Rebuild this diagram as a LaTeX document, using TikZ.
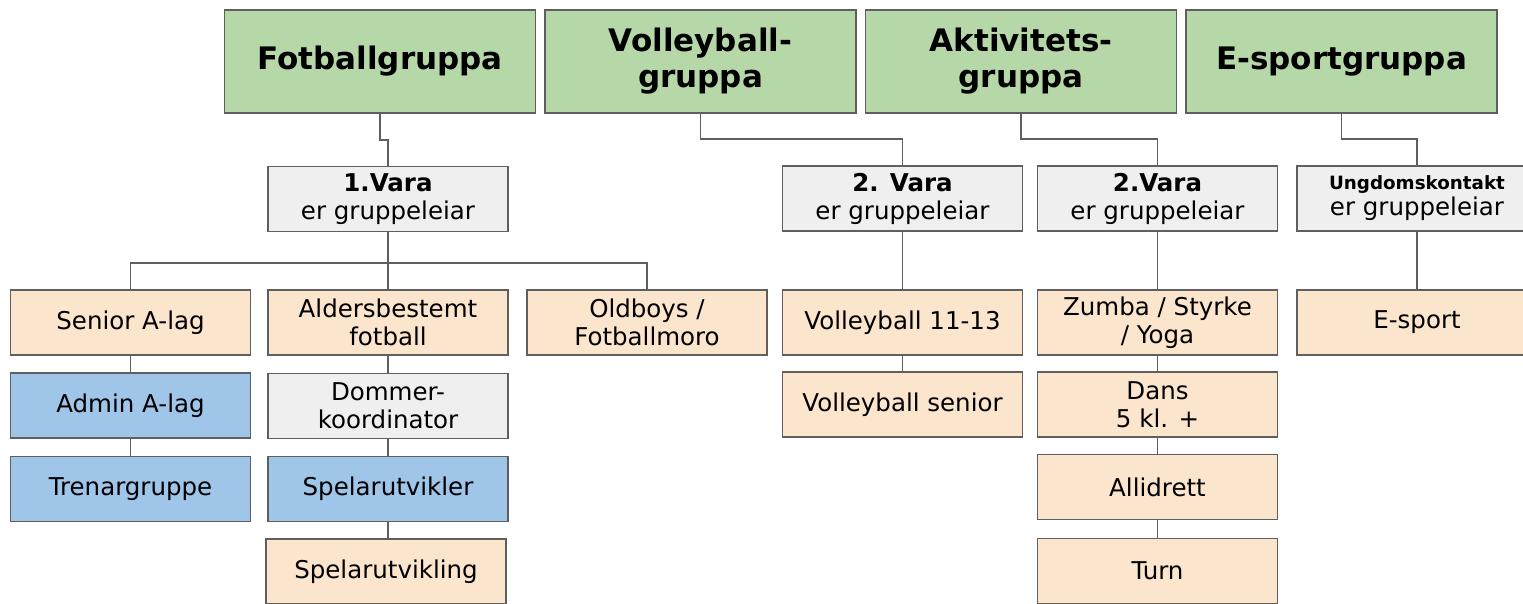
\documentclass[tikz,border=0pt]{standalone}
\usepackage{fontspec}
\setmainfont{DejaVu Sans}
\definecolor{grn}{HTML}{B6D7A8}
\definecolor{gry}{HTML}{EFEFEF}
\definecolor{pch}{HTML}{FCE5CD}
\definecolor{blu}{HTML}{9FC5E8}
\definecolor{edge}{HTML}{5F5F5F}
\tikzset{
  base/.style={draw=edge, line width=1.8pt, rectangle, align=center, inner sep=0pt,
    minimum width=240pt, minimum height=65pt, font=\fontsize{24.5}{28}\selectfont},
  title/.style={base, fill=grn, minimum width=311pt, minimum height=103pt,
    font=\fontsize{31}{36}\selectfont\bfseries},
  lead/.style={base, fill=gry},
  item/.style={base, fill=pch},
  admin/.style={base, fill=blu},
  gitem/.style={base, fill=gry},
  conn/.style={draw=edge, line width=1.8pt},
}
\begin{document}
\begin{tikzpicture}[x=1pt, y=-1pt]
\useasboundingbox (0,0) rectangle (1523,603);
\clip (0,0) rectangle (1523,603);
% top row
\node[title] (fot) at (380,61.5) {Fotballgruppa};
\node[title] (vol) at (700.5,61.5) {Volleyball-\\gruppa};
\node[title] (akt) at (1021,61.5) {Aktivitets-\\gruppa};
\node[title] (esp) at (1341.5,61.5) {E-sportgruppa};
% leaders
\node[lead] (l1) at (388,199) {\textbf{1.Vara}\\er gruppeleiar};
\node[lead] (l2) at (902.5,198.5) {\textbf{2. Vara}\\er gruppeleiar};
\node[lead] (l3) at (1157.5,198.5) {\textbf{2.Vara}\\er gruppeleiar};
\node[lead, font=\fontsize{24.5}{26}\selectfont] (l4) at (1417,198.5) {{\fontsize{18.3}{20}\selectfont\bfseries Ungdomskontakt}\\er gruppeleiar};
% football column
\node[item] (sen) at (130.5,322.5) {Senior A-lag};
\node[item] (ald) at (388,322.5) {Aldersbestemt\\fotball};
\node[item] (old) at (647,322.5) {Oldboys /\\Fotballmoro};
\node[admin] (adm) at (130.5,405.5) {Admin A-lag};
\node[admin] (tre) at (130.5,489) {Trenargruppe};
\node[gitem] (dom) at (388,406) {Dommer-\\koordinator};
\node[admin] (spu) at (388,489) {Spelarutvikler};
\node[item] (spg) at (386,571.5) {Spelarutvikling};
% volleyball
\node[item] (v11) at (902.5,322.5) {Volleyball 11-13};
\node[item] (vse) at (902.5,404.5) {Volleyball senior};
% aktivitet
\node[item] (zum) at (1157.5,322.5) {Zumba / Styrke\\/ Yoga};
\node[item] (dan) at (1157.5,404.5) {Dans\\5 kl. +};
\node[item] (all) at (1157.5,487) {Allidrett};
\node[item] (tur) at (1157.5,571) {Turn};
% esport
\node[item] (esi) at (1417,322.5) {E-sport};
% connectors top
\draw[conn] (fot.south) -- (fot.south |- 0,140) -| (l1.north);
\draw[conn] (vol.south) -- (vol.south |- 0,139) -| (l2.north);
\draw[conn] (akt.south) -- (akt.south |- 0,139) -| (l3.north);
\draw[conn] (esp.south) -- (esp.south |- 0,139) -| (l4.north);
% football branches
\draw[conn] (l1.south) -- (ald.north);
\draw[conn] (sen.north) -- (sen.north |- 0,263) -- (old.north |- 0,263) -- (old.north);
\draw[conn] (sen) -- (adm);
\draw[conn] (adm) -- (tre);
\draw[conn] (ald) -- (dom);
\draw[conn] (dom) -- (spu);
\draw[conn] (spu.south) -- (spu.south |- spg.north);
% volleyball
\draw[conn] (l2) -- (v11);
\draw[conn] (v11) -- (vse);
% aktivitet
\draw[conn] (l3) -- (zum);
\draw[conn] (zum) -- (dan);
\draw[conn] (dan) -- (all);
\draw[conn] (all) -- (tur);
% esport
\draw[conn] (l4) -- (esi);
\end{tikzpicture}
\end{document}
